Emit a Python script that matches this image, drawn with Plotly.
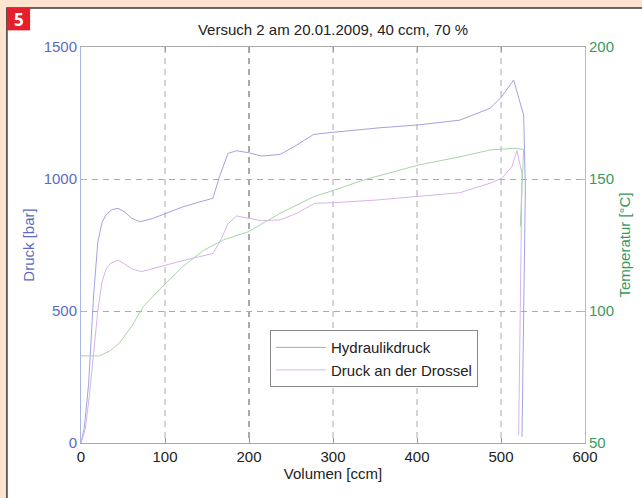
import plotly.graph_objects as go

# ---- data ----
hyd_x = [0, 4, 9, 15, 20, 25, 30, 37, 44, 52, 60, 70, 85, 100, 120, 140, 157, 165, 175, 185, 199,
         215, 237, 257, 277, 300, 356, 402, 451, 487, 501, 515, 527, 529, 527, 525]
hyd_y = [0, 60, 220, 560, 760, 835, 866, 884, 889, 875, 852, 838, 850, 868, 893, 912, 927, 1010,
         1097, 1107, 1100, 1087, 1093, 1129, 1169, 1177, 1194, 1205, 1223, 1268, 1312, 1375, 1242,
         966, 500, 24]

dro_x = [0, 5, 10, 15, 20, 25, 30, 35, 44, 52, 60, 72, 85, 100, 120, 140, 157, 165, 175, 185, 199,
         215, 237, 257, 278, 300, 350, 402, 451, 487, 501, 513, 519, 525, 523, 521]
dro_y = [0, 50, 180, 350, 500, 610, 660, 680, 693, 678, 660, 649, 660, 675, 690, 705, 718, 760,
         830, 860, 851, 842, 845, 870, 908, 910, 920, 933, 948, 984, 1003, 1047, 1107, 1021, 500, 30]

tmp_x = [0, 10, 22, 35, 46, 60, 74, 87, 100, 120, 146, 170, 199, 237, 277, 300, 336, 402, 451,
         487, 515, 527, 524, 523]
tmp_y = [83, 83, 83, 85, 88, 94, 101.6, 106, 110, 116.5, 123, 127, 130, 137, 143.3, 145.6, 149.6,
         155.3, 158.4, 161, 161.6, 161.2, 140, 132]

x_ticks = [0, 100, 200, 300, 400, 500, 600]
y_ticks = [0, 500, 1000, 1500]
y2_ticks = [50, 100, 150, 200]

title_text = "Versuch 2 am 20.01.2009, 40 ccm, 70 %"

BLUE_LINE = "#a2a3e2"
LILA_LINE = "#d8b4e8"
GREEN_LINE = "#a9d4a9"
BLUE_TXT = "#5b6cc0"
GREEN_TXT = "#3a9a5c"
FONT = "Liberation Sans, Arial, sans-serif"
FS = 15
DASH = "6px,5px"

fig = go.Figure()
fig.add_trace(go.Scatter(x=hyd_x, y=hyd_y, mode="lines", name="Hydraulikdruck",
                         line=dict(color=BLUE_LINE, width=1)))
fig.add_trace(go.Scatter(x=dro_x, y=dro_y, mode="lines", name="Druck an der Drossel",
                         line=dict(color=LILA_LINE, width=1)))
fig.add_trace(go.Scatter(x=tmp_x, y=tmp_y, mode="lines", name="Temperatur", yaxis="y2",
                         showlegend=False, line=dict(color=GREEN_LINE, width=1)))

# page frame: white panel with dark border, red badge
fig.add_shape(type="rect", xref="paper", yref="paper", x0=-0.147, x1=1.3, y0=-0.3, y1=1.0985,
              fillcolor="white", line=dict(color="#3a3a3a", width=1.5), layer="below")
fig.add_shape(type="rect", xref="paper", yref="paper", x0=-0.147, x1=-0.101, y0=1.042, y1=1.0985,
              fillcolor="#e4202a", line=dict(width=0), layer="above")
fig.add_annotation(text="<b>5</b>", xref="paper", yref="paper", x=-0.124, y=1.07,
                   showarrow=False, font=dict(color="white", size=17, family="Open Sans, Arial"),
                   xanchor="center", yanchor="middle")

# vertical dashed grid lines at the inner x ticks (the one at 200 is darker in the original)
for xv in x_ticks[1:-1]:
    fig.add_shape(type="line", xref="x", yref="paper", x0=xv, x1=xv, y0=1, y1=0,
                  line=dict(color="#555555" if xv == 200 else "#aaaaaa", width=1, dash=DASH),
                  layer="below")

fig.update_layout(
    width=642, height=498,
    margin=dict(l=81, r=57, t=47, b=55),
    paper_bgcolor="#fde3d0",
    plot_bgcolor="rgba(0,0,0,0)",
    font=dict(family=FONT, size=FS, color="#222222"),
    title=dict(text=title_text, x=0.5, xref="paper", y=1 - 30 / 498, yanchor="middle",
               font=dict(size=FS, color="#222222")),
    xaxis=dict(range=[0, 600], tickvals=x_ticks, ticks="inside", ticklen=5, tickcolor="#999",
               showline=True, linecolor="#aaaaaa", mirror="ticks", zeroline=False,
               showgrid=False,
               title=dict(text="Volumen [ccm]", standoff=2, font=dict(size=FS)),
               tickfont=dict(size=FS, color="#222222")),
    yaxis=dict(range=[0, 1500], tickvals=y_ticks, ticks="inside", ticklen=5, tickcolor="#a9b4e0",
               showline=True, linecolor="#a9b4e0", zeroline=False,
               showgrid=True, gridcolor="#aaaaaa", griddash=DASH, gridwidth=1,
               title=dict(text="Druck [bar]", standoff=5, font=dict(size=FS, color=BLUE_TXT)),
               tickfont=dict(size=FS, color=BLUE_TXT)),
    yaxis2=dict(range=[50, 200], tickvals=y2_ticks, overlaying="y", side="right",
                ticks="inside", ticklen=5, tickcolor="#bbbbbb", showline=True, linecolor="#bbbbbb",
                showgrid=False, zeroline=False,
                title=dict(text="Temperatur [°C]", standoff=6, font=dict(size=FS, color=GREEN_TXT)),
                tickfont=dict(size=FS, color=GREEN_TXT)),
    legend=dict(x=0.375, y=0.285, xanchor="left", yanchor="top", bgcolor="white",
                bordercolor="#888888", borderwidth=1, font=dict(size=FS, color="#222222"),
                tracegroupgap=0, itemwidth=50),
    showlegend=True,
)

fig.write_html("out.html")
